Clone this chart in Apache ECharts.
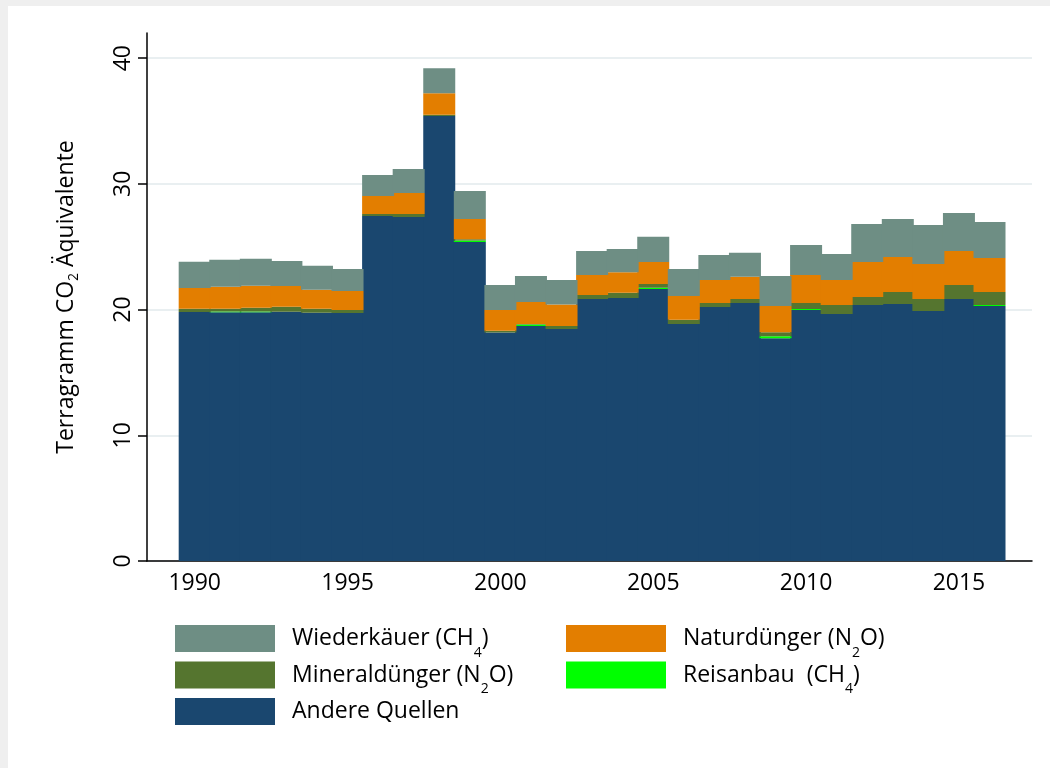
<!DOCTYPE html>
<html>
<head>
<meta charset="utf-8">
<title>Treibhausgase Landwirtschaft</title>
<script src="https://cdn.jsdelivr.net/npm/echarts@6/dist/echarts.min.js"></script>
<style>
	html, body { margin: 0; padding: 0; background: #efefef; }
	#main { position: absolute; left: 8px; top: 6px; width: 1042px; height: 762px; background: #fff; }
</style>
</head>
<body>
<div id="main"></div>
<script>
var years = [1990, 1991, 1992, 1993, 1994, 1995, 1996, 1997, 1998, 1999,
	2000, 2001, 2002, 2003, 2004, 2005, 2006, 2007, 2008, 2009,
	2010, 2011, 2012, 2013, 2014, 2015, 2016];
// Werte in Tg CO2-Aequivalente, von unten nach oben gestapelt
var andereQuellen = [19.80, 19.78, 19.78, 19.83, 19.75, 19.73, 27.44, 27.36, 35.40, 25.37,
	18.18, 18.69, 18.45, 20.84, 20.92, 21.63, 18.85, 20.20, 20.52, 17.72,
	19.96, 19.64, 20.36, 20.44, 19.88, 20.84, 20.28];
var reisanbau = [0, 0.07, 0.07, 0, 0, 0, 0, 0, 0, 0.12,
	0, 0.12, 0, 0, 0, 0.10, 0, 0, 0, 0.15,
	0.08, 0, 0, 0, 0, 0, 0.08];
var mineralduenger = [0.26, 0.21, 0.30, 0.39, 0.31, 0.24, 0.16, 0.24, 0.10, 0.11,
	0.13, 0.05, 0.24, 0.31, 0.41, 0.30, 0.34, 0.32, 0.32, 0.33,
	0.48, 0.72, 0.64, 0.95, 0.96, 1.11, 1.03];
var naturduenger = [1.65, 1.76, 1.75, 1.65, 1.52, 1.51, 1.44, 1.68, 1.70, 1.61,
	1.65, 1.74, 1.72, 1.60, 1.63, 1.75, 1.89, 1.83, 1.77, 2.08,
	2.23, 1.99, 2.78, 2.79, 2.78, 2.71, 2.71];
var wiederkaeuer = [2.10, 2.15, 2.15, 1.99, 1.91, 1.74, 1.67, 1.91, 2.00, 2.23,
	1.99, 2.07, 1.94, 1.91, 1.86, 2.02, 2.14, 1.99, 1.91, 2.39,
	2.39, 2.07, 3.03, 3.02, 3.11, 3.02, 2.87];
var xTicks = [1990, 1995, 2000, 2005, 2010, 2015];
var yTicks = [0, 10, 20, 30, 40];

var fontName = 'Open Sans';
var subStyle = { fontFamily: fontName, fontSize: 14, color: '#000', padding: [16, 0, 0, 0] };
// legende: tief gesetzter index wie im original
var legendSub = { fontFamily: fontName, fontSize: 14, color: '#000', lineHeight: 1, padding: [29, 0, 0, 0] };

// [wert, jahr] damit der stapel auf dem wert liegt
function pairs(values) {
	var out = [];
	for (var i = 0; i < years.length; i++) {
		out.push([values[i], years[i]]);
	}
	return out;
}

function stackSeries(name, values, color) {
	return {
		name: name,
		type: 'bar',
		stack: 'total',
		barWidth: 32,
		barGap: 0,
		encode: { x: 1, y: 0 },
		itemStyle: { color: color },
		emphasis: { disabled: true },
		data: pairs(values)
	};
}

var myChart = echarts.init(document.getElementById('main'), null, { renderer: 'canvas' });

var legendText = {
	fontFamily: fontName,
	fontSize: 23,
	color: '#000',
	padding: [0, 0, 0, 12],
	rich: { sub: legendSub }
};
// alle eintraege gleich hoch (leerer index bei "Andere Quellen")
var legendNames = {
	'Wiederkäuer (CH4)': 'Wiederkäuer (CH{sub|4})',
	'Naturdünger (N2O)': 'Naturdünger (N{sub|2}O)',
	'Mineraldünger (N2O)': 'Mineraldünger (N{sub|2}O)',
	'Reisanbau  (CH4)': 'Reisanbau  (CH{sub|4})',
	'Andere Quellen': 'Andere Quellen{sub| }'
};

function legendCol(left, names) {
	return {
		orient: 'vertical',
		left: left,
		top: 611,
		padding: 0,
		itemWidth: 100,
		itemHeight: 27,
		itemGap: -6.5,
		icon: 'rect',
		selectedMode: false,
		textStyle: legendText,
		formatter: function (n) { return legendNames[n]; },
		data: names
	};
}

var option = {
	animation: false,
	backgroundColor: '#fff',
	grid: { left: 139, right: 18, top: 27, bottom: 207 },
	legend: [
		legendCol(167, ['Wiederkäuer (CH4)', 'Mineraldünger (N2O)', 'Andere Quellen']),
		legendCol(558, ['Naturdünger (N2O)', 'Reisanbau  (CH4)'])
	],
	xAxis: {
		type: 'value',
		min: 1988.44,
		max: 2017.39,
		axisLine: { show: true, lineStyle: { color: '#000', width: 1.5 } },
		axisTick: { show: false },
		splitLine: { show: false },
		axisLabel: {
			customValues: xTicks,
			formatter: function (v) { return String(v); },
			margin: 11,
			color: '#000',
			fontFamily: fontName,
			fontSize: 23
		}
	},
	yAxis: {
		type: 'value',
		min: 0,
		max: 42,
		name: 'Terragramm CO{sub|2} Äquivalente',
		nameLocation: 'middle',
		nameGap: 66,
		nameTextStyle: {
			fontFamily: fontName,
			fontSize: 23,
			color: '#000',
			rich: { sub: subStyle }
		},
		axisLine: { show: true, lineStyle: { color: '#000', width: 1.5 } },
		axisTick: { show: true, customValues: yTicks, length: 9, lineStyle: { color: '#000', width: 1.5 } },
		splitLine: { show: true, lineStyle: { color: '#e9eff1', width: 2 } },
		axisLabel: {
			customValues: yTicks,
			rotate: 90,
			margin: 12,
			color: '#000',
			fontFamily: fontName,
			fontSize: 23
		}
	},
	series: [
		stackSeries('Andere Quellen', andereQuellen, '#1a476f'),
		stackSeries('Reisanbau  (CH4)', reisanbau, '#00ff00'),
		stackSeries('Mineraldünger (N2O)', mineralduenger, '#55752f'),
		stackSeries('Naturdünger (N2O)', naturduenger, '#e37e00'),
		stackSeries('Wiederkäuer (CH4)', wiederkaeuer, '#6e8e84')
	]
};
myChart.setOption(option);
</script>
</body>
</html>
